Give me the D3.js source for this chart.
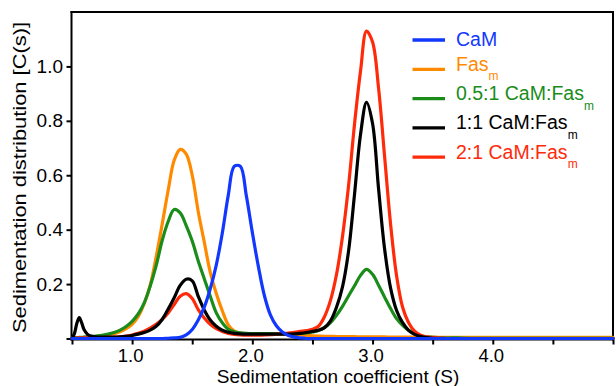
<!DOCTYPE html>
<html>
<head>
<meta charset="utf-8">
<script src="https://cdn.jsdelivr.net/npm/d3@7"></script>
<style>
body { margin: 0; background: #fff; }
text { font-family: 'Liberation Sans', Arial, Helvetica, sans-serif; }
</style>
</head>
<body>
<div id="chart"></div>
<script>
// sedimentation coefficient grid (S)
const sGrid = [
	0.50, 0.52, 0.54, 0.56, 0.58, 0.60, 0.63, 0.66, 0.70, 0.75,
	0.80, 0.85, 0.90, 0.95, 1.00, 1.05, 1.10, 1.15, 1.20, 1.25,
	1.30, 1.35, 1.40, 1.45, 1.50, 1.55, 1.60, 1.65, 1.70, 1.75,
	1.80, 1.85, 1.90, 1.95, 2.00, 2.05, 2.10, 2.15, 2.20, 2.25,
	2.30, 2.35, 2.40, 2.45, 2.50, 2.55, 2.60, 2.65, 2.70, 2.75,
	2.80, 2.85, 2.90, 2.95, 3.00, 3.05, 3.10, 3.15, 3.20, 3.25,
	3.30, 3.35, 3.40, 3.45, 3.50, 3.60, 3.70, 3.80, 4.00, 4.50,
	5.00
];

// C(s), one value per grid point
const cam = [
	0, 0, 0, 0, 0, 0, 0, 0, 0, 0,
	0, 0, 0, 0, 0, 0, 0, 0, 0, 0,
	0.001, 0.002, 0.004, 0.013, 0.033, 0.068, 0.115, 0.183, 0.270, 0.387,
	0.527, 0.633, 0.633, 0.525, 0.390, 0.265, 0.158, 0.087, 0.047, 0.024,
	0.011, 0.005, 0.002, 0, 0, 0, 0, 0, 0, 0,
	0, 0, 0, 0, 0, 0, 0, 0, 0, 0,
	0, 0, 0, 0, 0, 0, 0, 0, 0, 0,
	0
];
const fasM = [
	0.002, 0.002, 0.003, 0.003, 0.003, 0.004, 0.005, 0.006, 0.007, 0.010,
	0.014, 0.018, 0.025, 0.036, 0.052, 0.080, 0.128, 0.195, 0.300, 0.420,
	0.545, 0.655, 0.695, 0.678, 0.600, 0.466, 0.355, 0.243, 0.165, 0.102,
	0.050, 0.027, 0.020, 0.018, 0.017, 0.017, 0.017, 0.017, 0.016, 0.016,
	0.015, 0.014, 0.013, 0.011, 0.010, 0.009, 0.008, 0.008, 0.007, 0.007,
	0.007, 0.007, 0.006, 0.006, 0.006, 0.006, 0.006, 0.005, 0.005, 0.005,
	0.005, 0.005, 0.005, 0.005, 0.005, 0.004, 0.004, 0.004, 0.004, 0.004,
	0.004
];
const ratio05 = [
	0.003, 0.003, 0.003, 0.004, 0.004, 0.005, 0.006, 0.007, 0.009, 0.012,
	0.016, 0.022, 0.031, 0.044, 0.063, 0.090, 0.130, 0.192, 0.268, 0.360,
	0.430, 0.474, 0.462, 0.415, 0.358, 0.285, 0.220, 0.155, 0.094, 0.058,
	0.034, 0.025, 0.021, 0.019, 0.018, 0.018, 0.018, 0.018, 0.018, 0.018,
	0.018, 0.018, 0.019, 0.021, 0.024, 0.029, 0.040, 0.058, 0.085, 0.118,
	0.156, 0.194, 0.232, 0.254, 0.236, 0.196, 0.152, 0.110, 0.073, 0.048,
	0.030, 0.018, 0.010, 0.006, 0.004, 0.002, 0.002, 0.001, 0.001, 0.001,
	0.001
];
const ratio11 = [
	0.000, 0.018, 0.055, 0.077, 0.058, 0.033, 0.015, 0.009, 0.006, 0.005,
	0.005, 0.005, 0.006, 0.008, 0.011, 0.016, 0.022, 0.031, 0.045, 0.070,
	0.108, 0.150, 0.195, 0.218, 0.212, 0.155, 0.105, 0.068, 0.045, 0.031,
	0.023, 0.019, 0.017, 0.016, 0.016, 0.016, 0.016, 0.016, 0.016, 0.016,
	0.016, 0.017, 0.019, 0.022, 0.026, 0.030, 0.040, 0.065, 0.115, 0.190,
	0.320, 0.530, 0.750, 0.868, 0.790, 0.550, 0.330, 0.185, 0.103, 0.058,
	0.030, 0.015, 0.007, 0.003, 0.001, 0, 0, 0, 0, 0,
	0
];
const ratio21 = [
	0.001, 0.001, 0.002, 0.002, 0.002, 0.002, 0.003, 0.003, 0.003, 0.004,
	0.004, 0.005, 0.006, 0.009, 0.013, 0.019, 0.027, 0.038, 0.052, 0.070,
	0.094, 0.125, 0.155, 0.165, 0.147, 0.106, 0.075, 0.052, 0.036, 0.026,
	0.019, 0.015, 0.013, 0.012, 0.012, 0.012, 0.013, 0.014, 0.016, 0.018,
	0.020, 0.023, 0.026, 0.029, 0.034, 0.045, 0.080, 0.140, 0.235, 0.375,
	0.560, 0.788, 0.983, 1.130, 1.090, 0.920, 0.670, 0.420, 0.230, 0.115,
	0.058, 0.027, 0.012, 0.006, 0.003, 0.001, 0, 0, 0, 0,
	0
];

const seriesNames = ['CaM', 'Fas_m', '0.5:1 CaM:Fas_m', '1:1 CaM:Fas_m', '2:1 CaM:Fas_m'];
const seriesValues = [cam, fasM, ratio05, ratio11, ratio21];
const seriesColors = ['#1238ff', '#ff8a00', '#1a8c1a', '#000000', '#ff2a0a'];
const drawOrder = [1, 2, 4, 3, 0];

const xTicks = [0.5, 1.0, 1.5, 2.0, 2.5, 3.0, 3.5, 4.0, 4.5, 5.0];
const xTickLabels = ['', '1.0', '', '2.0', '', '3.0', '', '4.0', '', ''];
const yTicks = [0, 0.2, 0.4, 0.6, 0.8, 1.0];
const yTickLabels = ['', '0.2', '0.4', '0.6', '0.8', '1.0'];

const width = 616, height = 386;
const plotLeft = 72, plotRight = 613, plotTop = 12, plotBottom = 338.5;

const svg = d3.select('#chart').append('svg')
	.attr('width', width)
	.attr('height', height);

const x = d3.scaleLinear().domain([0.5, 5.0]).range([plotLeft, plotRight]);
const y = d3.scaleLinear().domain([0, 1.2]).range([plotBottom, plotTop]);

// axes
const gx = svg.append('g')
	.attr('transform', 'translate(0,339.5)')
	.call(d3.axisBottom(x)
		.tickValues(xTicks)
		.tickFormat((d, i) => xTickLabels[i])
		.tickSize(5)
		.tickSizeOuter(0)
		.tickPadding(4));

const gy = svg.append('g')
	.attr('transform', 'translate(71.5,0)')
	.call(d3.axisLeft(y)
		.tickValues(yTicks)
		.tickFormat((d, i) => yTickLabels[i])
		.tickSize(5)
		.tickSizeOuter(0)
		.tickPadding(3.5));

[gx, gy].forEach(g => {
	g.select('.domain').remove();
	g.selectAll('line').attr('stroke', '#000').attr('stroke-width', 2);
	g.selectAll('text')
		.attr('fill', '#000')
		.style('font-size', '19px')
		.style('font-family', "'Liberation Sans', Arial, sans-serif");
});
gx.selectAll('text').attr('dx', -2).style('font-size', '18.5px');

// frame
const frame = [
	[71.5, 11, 71.5, 340.5],
	[70.5, 339.5, 614, 339.5],
	[70.5, 12, 614, 12],
	[613, 11, 613, 340.5]
];
svg.append('g').selectAll('line')
	.data(frame)
	.enter()
	.append('line')
	.attr('x1', d => d[0]).attr('y1', d => d[1])
	.attr('x2', d => d[2]).attr('y2', d => d[3])
	.attr('stroke', '#000')
	.attr('stroke-width', 2);

// curves
const line = d3.line()
	.x((d, i) => x(sGrid[i]))
	.y(d => y(d))
	.curve(d3.curveCatmullRom.alpha(0.5));

svg.append('g').selectAll('path')
	.data(drawOrder)
	.enter()
	.append('path')
	.attr('d', k => line(seriesValues[k]))
	.attr('fill', 'none')
	.attr('stroke', k => seriesColors[k])
	.attr('stroke-width', 3.2)
	.attr('stroke-linejoin', 'round')
	.attr('stroke-linecap', 'round');

// legend
const legend = svg.append('g');
seriesNames.forEach((name, i) => {
	const ly = 40 + i * 29.3;
	const parts = name.split('_');
	legend.append('line')
		.attr('x1', 412.5).attr('x2', 445)
		.attr('y1', ly).attr('y2', ly)
		.attr('stroke', seriesColors[i])
		.attr('stroke-width', 3.3);
	const t = legend.append('text')
		.attr('x', 456)
		.attr('y', ly + (parts.length > 1 ? 1.5 : 6))
		.attr('fill', seriesColors[i])
		.style('font-size', '19.5px');
	t.append('tspan').text(parts[0]);
	if (parts[1]) {
		t.append('tspan').attr('dy', 9.5).style('font-size', '12px').text(parts[1]);
	}
});

// axis titles
svg.append('text')
	.attr('x', 338)
	.attr('y', 382.5)
	.attr('text-anchor', 'middle')
	.style('font-size', '19px')
	.text('Sedimentation coefficient (S)');

svg.append('text')
	.attr('transform', 'translate(26,177.5) rotate(-90)')
	.attr('text-anchor', 'middle')
	.attr('textLength', 311)
	.attr('lengthAdjust', 'spacingAndGlyphs')
	.style('font-size', '19px')
	.text('Sedimentation distribution [C(s)]');
</script>
</body>
</html>
